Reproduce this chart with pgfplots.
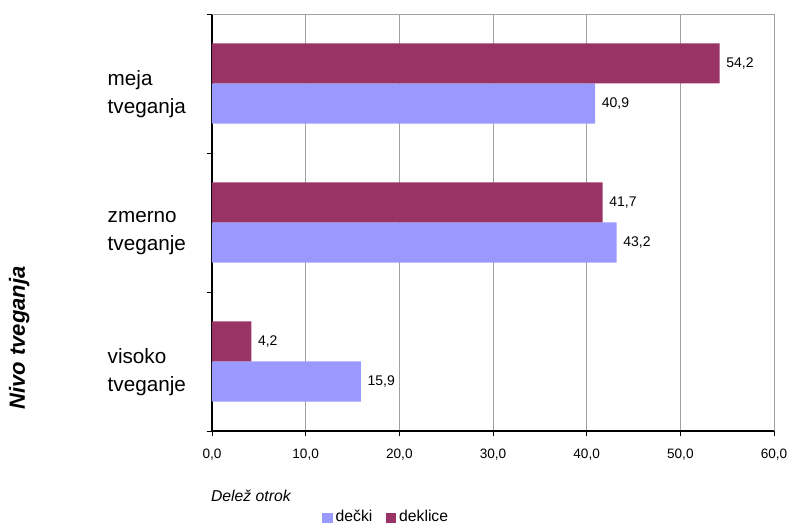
\documentclass[border=0pt]{standalone}
\usepackage{pgfplots}
\pgfplotsset{compat=1.18}
\usepackage{fontspec}
\setmainfont{Liberation Sans}
\definecolor{boys}{HTML}{9999FF}
\definecolor{girls}{HTML}{993366}
\definecolor{gridgray}{HTML}{A0A0A0}
\begin{document}
\begin{tikzpicture}
\useasboundingbox (-159pt,-72.75pt) rectangle (432.75pt,323.25pt);
\begin{axis}[
  at={(0,0)}, anchor=south west,
  scale only axis,
  width=421.5pt, height=312.75pt,
  xbar,
  xmin=0, xmax=60,
  ymin=-0.5, ymax=2.5,
  xtick={0,10,...,60},
  axis x line*=bottom,
  axis y line*=left,
  tick align=outside,
  x tick style={black, line width=0.6pt},
  major tick length=4pt,
  xmajorgrids,
  major grid style={gridgray, line width=0.6pt},
  axis line style={black, line width=0.8pt},
  ytick={0,1,2},
  yticklabels={{visoko\\tveganje},{zmerno\\tveganje},{meja\\tveganja}},
  minor ytick={-0.5,0.5,1.5,2.5},
  minor tick length=4pt,
  ytick style={draw=none},
  minor y tick style={black, draw=black, line width=0.6pt},
  yticklabel style={align=left, text width=66pt, inner sep=0pt, xshift=-8pt, yshift=-8pt, font=\fontsize{15.5pt}{21pt}\selectfont},
  xticklabel style={font=\fontsize{10.2pt}{11pt}\selectfont, yshift=-6pt},
  /pgf/number format/assume math mode=true,
  x tick label style={/pgf/number format/.cd, fixed, fixed zerofill, precision=1, use comma},
  xlabel={Delež otrok},
  xlabel style={at={(axis description cs:-0.01,-0.156)}, anchor=west, font=\itshape\fontsize{11.8pt}{13pt}\selectfont},
  ylabel={Nivo tveganja},
  ylabel style={at={(axis description cs:-0.343,0.223)}, anchor=center, rotate=0, font=\bfseries\itshape\fontsize{16.5pt}{18pt}\selectfont},
  bar width=0.288,
  nodes near coords,
  nodes near coords style={anchor=west, xshift=1.5pt, font=\fontsize{10.5pt}{12pt}\selectfont, /pgf/number format/.cd, fixed, fixed zerofill, precision=1, use comma, assume math mode=true},
  legend style={at={(axis description cs:0.196,-0.206)}, anchor=west, draw=none, legend columns=2, font=\fontsize{11.8pt}{13pt}\selectfont, /tikz/every even column/.append style={column sep=8pt}, inner xsep=0pt},
  legend image code/.code={\fill[#1] (0pt,-4.5pt) rectangle (8pt,3pt);},
  clip=false,
]
\addplot[draw=none, fill=boys, bar shift=-0.144] coordinates {(15.9,0) (43.2,1) (40.9,2)};
\addplot[draw=none, fill=girls, bar shift=0.144] coordinates {(4.2,0) (41.7,1) (54.2,2)};
\legend{dečki, deklice}
\draw[gridgray, line width=0.6pt] (rel axis cs:0,1) -- (rel axis cs:1,1);
\end{axis}
\end{tikzpicture}
\end{document}
